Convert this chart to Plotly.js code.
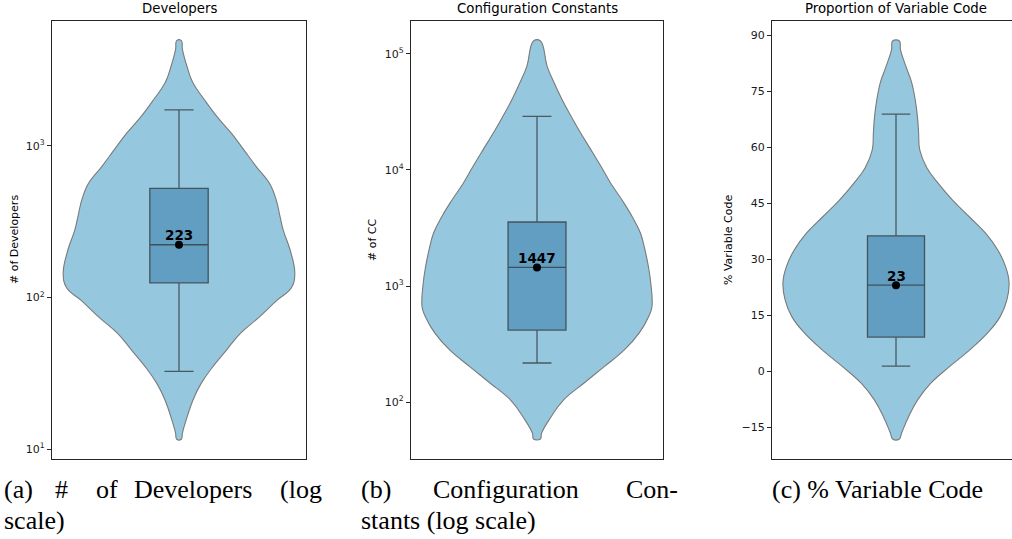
<!DOCTYPE html>
<html>
<head>
<meta charset="utf-8">
<script src="https://cdn.plot.ly/plotly-3.0.1.min.js"></script>
<style>
  html, body { margin: 0; padding: 0; background: #fff; overflow: hidden; }
  #chart { width: 1030px; height: 539px; }
</style>
</head>
<body>
<div id="chart"></div>
<script>
// ---------------- data ----------------
const panelTitles = ["Developers", "Configuration Constants", "Proportion of Variable Code"];
const axisTitles = ["# of Developers", "# of CC", "% Variable Code"];

// violin outlines: value levels (top -> bottom) and relative density (half width, max = 1)
const devLevels = [4955, 4325, 3334, 2612, 2018, 1556, 1219, 942, 726, 569, 439, 349, 278, 205, 144, 116, 95, 74, 58, 45, 34, 27, 21, 16.3, 12.8, 11.6];
const devDensity = [0.02, 0.03, 0.07, 0.12, 0.22, 0.33, 0.45, 0.56, 0.67, 0.78, 0.84, 0.87, 0.90, 0.96, 1.00, 0.97, 0.84, 0.69, 0.53, 0.41, 0.28, 0.19, 0.12, 0.07, 0.03, 0.02];

const ccLevels = [129400, 77300, 56200, 40100, 28600, 20800, 14900, 10600, 7730, 5510, 3940, 2860, 2040, 1460, 1060, 659, 541, 394, 281, 200, 146, 104, 74, 54, 48];
const ccDensity = [0.03, 0.09, 0.15, 0.22, 0.30, 0.38, 0.47, 0.56, 0.64, 0.74, 0.83, 0.90, 0.94, 0.97, 0.99, 1.00, 0.97, 0.89, 0.76, 0.58, 0.41, 0.23, 0.12, 0.04, 0.03];

const varLevels = [88.4, 86.0, 81.4, 77.1, 72.6, 68.0, 63.75, 59.2, 54.6, 50.4, 45.8, 41.25, 37.0, 32.4, 27.9, 23.6, 19.0, 14.5, 10.2, 5.6, 1.1, -3.2, -7.8, -12.3, -16.6, -18.2];
const varDensity = [0.03, 0.04, 0.09, 0.14, 0.17, 0.19, 0.20, 0.21, 0.27, 0.37, 0.50, 0.65, 0.79, 0.90, 0.97, 1.00, 0.98, 0.92, 0.81, 0.65, 0.47, 0.31, 0.19, 0.11, 0.05, 0.03];

// box statistics
const lowerWhisker = [32.5, 217, 1.3];
const q1Values = [125, 417, 9.1];
const medianValues = [223, 1447, 23];
const q3Values = [525, 3560, 36.2];
const upperWhisker = [1730, 29000, 68.8];
const markedValues = [223, 1447, 23];
const markedLabels = ["223", "1447", "23"];

// y tick labels
const logTicks1 = [10, 100, 1000];
const logTicks2 = [100, 1000, 10000, 100000];
const pctTicks = [-15, 0, 15, 30, 45, 60, 75, 90];

// captions
const captionA1 = ["(a)", "#", "of", "Developers", "(log"];
const captionA2 = ["scale)"];
const captionB1 = ["(b)", "Configuration", "Con-"];
const captionB2 = ["stants (log scale)"];
const captionC = "(c) % Variable Code";

// ---------------- drawing ----------------
const FIG_W = 1030, FIG_H = 539;
const px = v => v / FIG_W;
const py = v => (FIG_H - v) / FIG_H;
const HALF = 0.456;          // max half width of a violin (axis units, x range [-0.5, 0.5])
const violinFill = "#95c8de";
const boxFill = "#619ec1";

const panels = [
  { levels: devLevels, dens: devDensity, left: 52, right: 306, type: "log", range: [0.934, 3.825], ticks: logTicks1 },
  { levels: ccLevels, dens: ccDensity, left: 411, right: 663, type: "log", range: [1.509, 5.284], ticks: logTicks2 },
  { levels: varLevels, dens: varDensity, left: 772, right: 1020, type: "linear", range: [-23.57, 93.75], ticks: pctTicks }
];

const traces = [];
const layout = {
  width: FIG_W, height: FIG_H,
  margin: { l: 0, r: 0, t: 0, b: 0 },
  paper_bgcolor: "#ffffff", plot_bgcolor: "#ffffff",
  showlegend: false,
  font: { family: "DejaVu Sans", color: "#000", size: 11 },
  annotations: []
};

const plotTop = 21, plotBottom = 459;
const sfx = k => (k === 1 ? "" : String(k));

panels.forEach((p, i) => {
  const n = i + 1, m = i + 4;              // base subplot n, overlay subplot m (drawn on top)
  const xa = "x" + sfx(n), ya = "y" + sfx(n);
  const xo = "x" + m, yo = "y" + m;

  // violin outline: right side top->bottom, then left side bottom->top
  const xs = [], ys = [];
  p.levels.forEach((v, k) => { xs.push(p.dens[k] * HALF); ys.push(v); });
  for (let k = p.levels.length - 1; k >= 0; k--) { xs.push(-p.dens[k] * HALF); ys.push(p.levels[k]); }
  xs.push(xs[0]); ys.push(ys[0]);

  traces.push({
    type: "scatter", mode: "lines", x: xs, y: ys, xaxis: xa, yaxis: ya,
    fill: "toself", fillcolor: violinFill,
    line: { color: "#7a7a7a", width: 1.1, shape: "spline", smoothing: 1.2 },
    hoverinfo: "skip"
  });

  traces.push({
    type: "box", x: [0], xaxis: xo, yaxis: yo,
    q1: [q1Values[i]], median: [medianValues[i]], q3: [q3Values[i]],
    lowerfence: [lowerWhisker[i]], upperfence: [upperWhisker[i]],
    width: 0.23, whiskerwidth: 0.5, boxpoints: false,
    fillcolor: boxFill,
    line: { color: "rgba(55,60,65,0.8)", width: 1.3 },
    hoverinfo: "skip"
  });

  traces.push({
    type: "scatter", mode: "markers", x: [0], y: [markedValues[i]], xaxis: xo, yaxis: yo,
    marker: { color: "#000", size: 8 },
    hoverinfo: "skip", cliponaxis: false
  });

  layout.annotations.push({
    xref: xo, yref: yo, x: 0,
    y: p.type === "log" ? Math.log10(markedValues[i]) : markedValues[i],
    xanchor: "center", yanchor: "middle", yshift: 9.5, showarrow: false,
    text: markedLabels[i], font: { family: "DejaVu Sans", size: 13.5, color: "#000", weight: "bold" }
  });

  const common = { showgrid: false, zeroline: false, fixedrange: true };
  layout["xaxis" + sfx(n)] = Object.assign({
    domain: [px(p.left), px(p.right)], range: [-0.5, 0.5], anchor: ya,
    showticklabels: false, ticks: "",
    showline: true, mirror: true, linecolor: "#262626", linewidth: 1.1
  }, common);
  layout["xaxis" + m] = Object.assign({
    domain: [px(p.left), px(p.right)], range: [-0.5, 0.5], anchor: yo, overlaying: xa,
    showticklabels: false, ticks: "", showline: false
  }, common);

  const yax = Object.assign({
    domain: [py(plotBottom), py(plotTop)], anchor: xa, type: p.type, range: p.range,
    tickmode: "array", tickvals: p.ticks,
    ticks: "outside", ticklen: 4, tickwidth: 1, tickcolor: "#262626",
    tickfont: { family: "DejaVu Sans", size: 11, color: "#1a1a1a" },
    showline: true, mirror: true, linecolor: "#262626", linewidth: 1.1
  }, common);
  if (p.type === "log") yax.ticktext = p.ticks.map(t => "10<sup>" + Math.round(Math.log10(t)) + "</sup>");
  else yax.ticktext = p.ticks.map(t => (t < 0 ? "\u2212" + Math.abs(t) : String(t)));
  layout["yaxis" + sfx(n)] = yax;
  layout["yaxis" + m] = Object.assign({
    domain: [py(plotBottom), py(plotTop)], anchor: xo, overlaying: ya, type: p.type, range: p.range,
    showticklabels: false, ticks: "", showline: false
  }, common);

  // panel title
  layout.annotations.push({
    xref: "paper", yref: "paper", x: px((p.left + p.right) / 2), y: py(9),
    xanchor: "center", yanchor: "middle", showarrow: false,
    text: panelTitles[i], font: { family: "DejaVu Sans", size: 13.3, color: "#000" }
  });
});

// axis titles
const axisTitleX = [14, 372, 728];
axisTitles.forEach((t, i) => {
  layout.annotations.push({
    xref: "paper", yref: "paper", x: px(axisTitleX[i]), y: py(240),
    xanchor: "center", yanchor: "middle", showarrow: false, textangle: -90,
    text: t, font: { family: "DejaVu Sans", size: 11, color: "#000" }
  });
});

// captions (justified lines placed word by word)
const capFont = { family: "Liberation Serif", size: 26, color: "#000" };
function addWords(words, lefts, yPix) {
  words.forEach((w, k) => {
    layout.annotations.push({
      xref: "paper", yref: "paper", x: px(lefts[k]), y: py(yPix),
      xanchor: "left", yanchor: "middle", showarrow: false,
      text: w, font: capFont
    });
  });
}
addWords(captionA1, [2, 53, 94, 132, 278], 489);
addWords(captionA2, [2], 520);
addWords(captionB1, [359, 431, 624], 489);
addWords(captionB2, [359], 520);
layout.annotations.push({
  xref: "paper", yref: "paper", x: px(877), y: py(489),
  xanchor: "center", yanchor: "middle", showarrow: false, text: captionC, font: capFont
});

Plotly.newPlot("chart", traces, layout, { staticPlot: true, displayModeBar: false });
</script>
</body>
</html>
